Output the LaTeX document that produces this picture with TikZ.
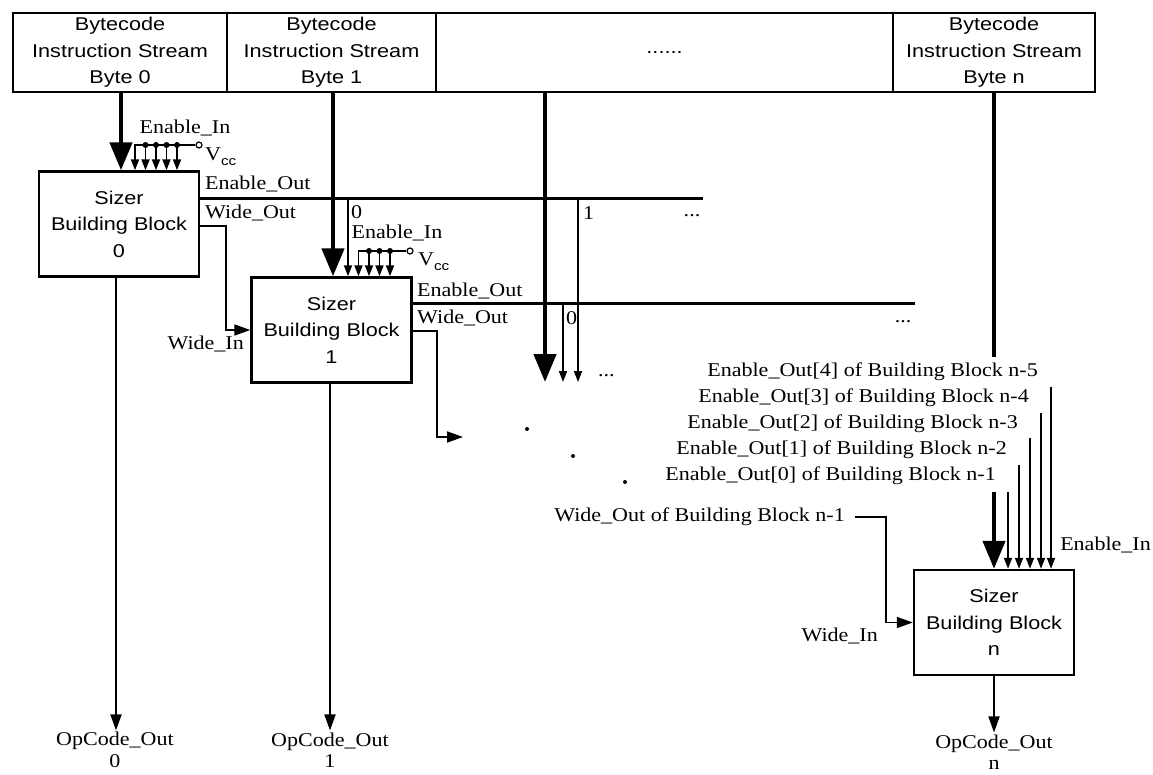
\documentclass[tikz,border=0pt]{standalone}
\usepackage{fontspec}
\setmainfont{Liberation Serif}[FakeStretch=1.13]
\newfontfamily\bsans{Liberation Sans}[FakeStretch=1.17]
\usetikzlibrary{arrows.meta}
\begin{document}
\begin{tikzpicture}[x=1pt,y=-1pt,
  lbl/.style={font=\fontsize{19.5}{20}\selectfont, inner sep=0pt},
  oclbl/.style={font=\fontsize{19.5}{21.5}\selectfont, inner sep=0pt, align=center, outer sep=2pt},
  boxtxt/.style={font=\bsans\fontsize{18.5}{26.5}\selectfont, align=center},
  topbox/.style={draw, line width=2.2pt, boxtxt, inner sep=0pt, minimum height=79pt},
  sizer/.style={draw, line width=2.4pt, boxtxt, inner sep=0pt, minimum width=160pt, minimum height=105pt},
  thin/.style={line width=1.8pt},
  bus/.style={line width=3pt},
  thick/.style={line width=4.5pt},
  big/.style={-{Triangle[length=28pt,width=22pt]}},
  small/.style={-{Triangle[length=11pt,width=8pt]}},
  med/.style={-{Triangle[length=16pt,width=11pt]}},
  dot/.style={circle, fill, inner sep=0pt, minimum size=6pt},
  pdot/.style={circle, fill, inner sep=0pt, minimum size=4pt},
  odot/.style={circle, draw, fill=white, line width=1.2pt, inner sep=0pt, minimum size=6pt},
]
\useasboundingbox (0,0) rectangle (1153,775);

% top row
\node[topbox, minimum width=214pt] (t0) at (120,52.5) {Bytecode\\Instruction Stream\\Byte 0};
\node[topbox, minimum width=209pt] (t1) at (331.5,52.5) {Bytecode\\Instruction Stream\\Byte 1};
\node[topbox, minimum width=457pt] (td) at (664.5,52.5) {......};
\node[topbox, minimum width=202pt] (tn) at (994,52.5) {Bytecode\\Instruction Stream\\Byte n};

% sizer blocks
\node[sizer] (b0) at (119,224) {Sizer\\Building Block\\0};
\node[sizer] (b1) at (331.5,330) {Sizer\\Building Block\\1};
\node[sizer] (bn) at (994,622.5) {Sizer\\Building Block\\n};

% bytecode arrows
\draw[thick,big] ([xshift=1pt]t0.south) -- ([xshift=2pt]b0.north);
\draw[thick,big] ([xshift=1.5pt]t1.south) -- ([xshift=1.5pt]b1.north);
\coordinate (dd) at (545,382);
\draw[thick,big] (td.south -| dd) -- (dd);
\coordinate (bnA) at (994,357);
\coordinate (bnB) at (994,492);
\draw[thick] (tn.south) -- (bnA);
\draw[thick,big] (bnB) -- (bn.north);

% fan of block 0
\node[odot] (vcc0) at (199,145) {};
\foreach \x [count=\i] in {135,145.5,156,166.5,177} {\coordinate (f0\i) at (\x,145);}
\draw[thin,small] (vcc0) -- (f01) -- (f01 |- b0.north);
\foreach \i in {2,...,5} {\draw[thin,small] (f0\i) -- (f0\i |- b0.north); \node[dot] (d0\i) at (f0\i) {};}
\node[lbl] (ei0) at (185,128) {Enable\_In};
\node[lbl,anchor=west] (vl0) at (205,157) {V\raisebox{-0.55ex}{\bsans\fontsize{13}{13}\selectfont cc}};

% outputs of block 0
\coordinate (eo0) at (703,199);
\draw[bus] ([yshift=25pt]b0.east) -- (eo0);
\node[lbl,anchor=west] (leo0) at (205,184) {Enable\_Out};
\node[lbl,anchor=west] (lwo0) at (205,213) {Wide\_Out};
\draw[thin,med] ([yshift=-2pt]b0.east) -- (226,226) |- (b1.west);
\node[lbl,anchor=east] (lwi1) at (244,344) {Wide\_In};

% fan of block 1
\coordinate (tp0) at (348,199);
\draw[thin,small] (tp0) -- (tp0 |- b1.north);
\node[lbl,anchor=west] (l0a) at (351,212) {0};
\node[odot] (vcc1) at (410,251) {};
\foreach \x [count=\i] in {358.5,369,379.5,390} {\coordinate (f1\i) at (\x,251);}
\draw[thin,small] (vcc1) -- (f11) -- (f11 |- b1.north);
\foreach \i in {2,...,4} {\draw[thin,small] (f1\i) -- (f1\i |- b1.north); \node[dot] (d1\i) at (f1\i) {};}
\node[lbl] (ei1) at (397,233) {Enable\_In};
\node[lbl,anchor=west] (vl1) at (418,262) {V\raisebox{-0.55ex}{\bsans\fontsize{13}{13}\selectfont cc}};

% outputs of block 1
\coordinate (eo1) at (915,304);
\draw[bus] ([yshift=26pt]b1.east) -- (eo1);
\node[lbl,anchor=west] (leo1) at (417,291) {Enable\_Out};
\node[lbl,anchor=west] (lwo1) at (417,318) {Wide\_Out};
\coordinate (wo1) at (463,437);
\draw[thin,med] ([yshift=-1pt]b1.east) -- (437,331) |- (wo1);

% middle taps
\coordinate (m0a) at (563,304); \coordinate (m0b) at (563,382);
\draw[thin,small] (m0a) -- (m0b);
\coordinate (m1a) at (578,199); \coordinate (m1b) at (578,382);
\draw[thin,small] (m1a) -- (m1b);
\node[lbl,anchor=west] (l0b) at (566,318) {0};
\node[lbl,anchor=west] (l1b) at (583,213) {1};
\node[lbl,anchor=west] (dt1) at (598,376) {...};
\node[lbl] (dt2) at (692,216) {...};
\node[lbl] (dt3) at (903,322) {...};
\node[pdot] (p1) at (527,429) {};
\node[pdot] (p2) at (573,456) {};
\node[pdot] (p3) at (625,482) {};

% inputs of block n
\foreach \x/\y [count=\i] in {1008/492,1019/465,1030/438,1041/413,1051/387}
  {\coordinate (e\i) at (\x,\y); \draw[thin,small] (e\i) -- (e\i |- bn.north);}
\node[lbl,anchor=east] (le4) at (1038,372) {Enable\_Out[4] of Building Block n-5};
\node[lbl,anchor=east] (le3) at (1029,398) {Enable\_Out[3] of Building Block n-4};
\node[lbl,anchor=east] (le2) at (1018,424) {Enable\_Out[2] of Building Block n-3};
\node[lbl,anchor=east] (le1) at (1007,450) {Enable\_Out[1] of Building Block n-2};
\node[lbl,anchor=east] (le0) at (996,476) {Enable\_Out[0] of Building Block n-1};
\node[lbl,anchor=east] (lwon) at (845,517) {Wide\_Out of Building Block n-1};
\draw[thin,med] ([xshift=10pt]lwon.east) -- (886,517) |- (bn.west);
\node[lbl,anchor=east] (lwin) at (878,636) {Wide\_In};
\node[lbl,anchor=east] (lein) at (1151,545) {Enable\_In};

% opcode outputs
\node[oclbl] (oc0) at (115,750) {OpCode\_Out\\0};
\node[oclbl] (oc1) at (330,750) {OpCode\_Out\\1};
\node[oclbl] (ocn) at (994,752) {OpCode\_Out\\n};
\draw[thin,med] ([xshift=-3pt]b0.south) -- ([xshift=-3pt]b0.south |- oc0.north);
\draw[thin,med] ([xshift=-1.5pt]b1.south) -- ([xshift=-1.5pt]b1.south |- oc1.north);
\draw[thin,med] (bn.south) -- (bn.south |- ocn.north);
\end{tikzpicture}
\end{document}
